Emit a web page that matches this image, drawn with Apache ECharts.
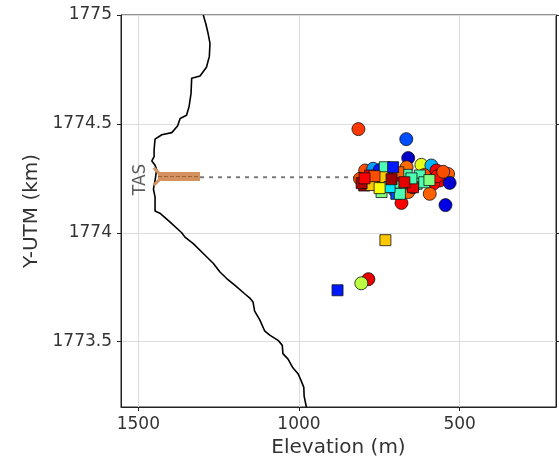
<!DOCTYPE html>
<html><head><meta charset="utf-8">
<script src="https://cdn.jsdelivr.net/npm/echarts@6/dist/echarts.min.js"></script>
<style>html,body{margin:0;padding:0;background:#fff}#c{width:559px;height:457px}</style>
</head><body><div id="c"></div>
<script>
// Topography profile (elevation m, Y-UTM km)
const topoElev = [1298,1290,1283,1277,1279,1288,1308,1334,1336,1342,1350,1370,1378,1396,1427,1448,1451,1451,1458,1448,1443,1448,1453,1448,1448,1433,1402,1365,1355,1329,1298,1267,1246,1225,1200,1169,1153,1143,1138,1122,1107,1091,1065,1052,1050,1034,1019,1003,993,985,984,977];
const topoY    = [1775.0,1774.96,1774.916,1774.87,1774.81,1774.76,1774.72,1774.71,1774.64,1774.58,1774.54,1774.525,1774.49,1774.46,1774.45,1774.43,1774.38,1774.35,1774.33,1774.31,1774.29,1774.24,1774.2,1774.165,1774.1,1774.09,1774.05,1774.0,1773.98,1773.95,1773.905,1773.86,1773.82,1773.79,1773.76,1773.72,1773.7,1773.682,1773.64,1773.6,1773.55,1773.53,1773.506,1773.483,1773.445,1773.42,1773.38,1773.353,1773.32,1773.29,1773.25,1773.2];

// TAS station band and projection line
const bandElev = [1439, 1308];
const bandY    = [1774.258, 1774.258];
const forkElev = [1452, 1425, 1452];
const forkY    = [1774.298, 1774.258, 1774.218];
const projElev = [1308, 812];
const projY    = [1774.255, 1774.255];
const stationLabel = ['TAS'];
const stationPos = [1494, 1774.245];

// Events: circles [elev, Y, colour value 0..1]
const circleElev = [815,666,660,544,784,806,794,810,769,665,619,588,572,536,562,582,569,531,593,681,660,645,610,551,631,703,749];
const circleY    = [1774.476,1774.43,1774.343,1774.127,1773.787,1773.768,1774.286,1774.248,1774.294,1774.301,1774.312,1774.309,1774.286,1774.27,1774.24,1774.225,1774.26,1774.229,1774.179,1774.137,1774.187,1774.209,1774.265,1774.28,1774.242,1774.196,1774.288];
const circleC    = [0.82,0.2,0.07,0.1,0.9,0.56,0.8,0.8,0.28,0.77,0.6,0.3,0.88,0.78,0.88,0.88,0.86,0.08,0.78,0.88,0.78,0.85,0.8,0.8,0.85,0.25,0.15];

// Events: squares [elev, Y, colour value]
const squareElev = [731,880,797,759,728,774,733,665,624,686,634,733,645,702,779,691,707,697,686,743,805,765,718,749,650,672,610,796,594,712];
const squareY    = [1773.966,1773.736,1774.217,1774.222,1774.225,1774.219,1774.301,1774.266,1774.263,1774.217,1774.225,1774.255,1774.209,1774.263,1774.263,1774.278,1774.301,1774.179,1774.179,1774.187,1774.228,1774.26,1774.21,1774.205,1774.25,1774.232,1774.232,1774.25,1774.242,1774.246];
const squareC    = [0.68,0.15,0.97,0.97,0.97,0.68,0.45,0.45,0.45,0.45,0.45,0.68,0.9,0.9,0.9,0.78,0.15,0.2,0.45,0.5,0.95,0.8,0.35,0.62,0.45,0.9,0.45,0.88,0.5,0.97];

const xTicks = [1500, 1000, 500];
const yTicks = [1773.5, 1774, 1774.5, 1775];

const zip2 = (a, b) => a.map((v, i) => [v, b[i]]);
const zip3 = (a, b, c) => a.map((v, i) => [v, b[i], c[i]]);

const txt = '#333';
const chart = echarts.init(document.getElementById('c'));
chart.setOption({
  animation: false,
  backgroundColor: '#fff',
  textStyle: {fontFamily: 'DejaVu Sans'},
  grid: {left: 121, top: 15, right: 3, bottom: 50, show: true, borderColor: '#222', borderWidth: 1,
    containLabel: false, outerBoundsMode: 'none'},
  visualMap: {show: false, seriesIndex: [4, 5], dimension: 2, min: 0, max: 1,
    inRange: {color: ['#00007f','#0000ff','#0080ff','#00ffff','#80ff80','#ffff00','#ff8000','#ff0000','#7f0000']}},
  xAxis: {
    type: 'value', inverse: true, min: 200, max: 1554,
    name: 'Elevation (m)', nameLocation: 'middle', nameGap: 30,
    nameTextStyle: {fontSize: 20, color: txt, fontFamily: 'DejaVu Sans'},
    axisLine: {show: true, onZero: false, lineStyle: {color: '#222'}},
    axisTick: {show: true, customValues: xTicks, length: 4, lineStyle: {color: '#222'}},
    axisLabel: {customValues: xTicks, fontSize: 17, color: txt, margin: 9, formatter: v => String(v)},
    splitLine: {show: true, lineStyle: {color: '#ddd', width: 1}}
  },
  yAxis: [{
    type: 'value', min: 1773.2, max: 1775,
    name: 'Y-UTM (km)', nameLocation: 'middle', nameGap: 74,
    nameTextStyle: {fontSize: 20, color: txt, fontFamily: 'DejaVu Sans'},
    axisLine: {show: true, onZero: false, lineStyle: {color: '#222'}},
    axisTick: {show: true, customValues: yTicks, length: 4, lineStyle: {color: '#222'}},
    axisLabel: {customValues: yTicks, fontSize: 17, color: txt, margin: 9, formatter: v => String(v)},
    splitLine: {show: true, lineStyle: {color: '#ddd', width: 1}}
  }, {
    type: 'value', min: 1773.2, max: 1775, position: 'right',
    axisLine: {show: true, lineStyle: {color: '#222'}},
    axisTick: {show: true, customValues: yTicks, length: 4, lineStyle: {color: '#222'}},
    axisLabel: {show: false}, splitLine: {show: false}
  }],
  series: [
    {type: 'line', data: zip2(topoElev, topoY), showSymbol: false, symbol: 'none',
      lineStyle: {color: '#000', width: 1.6}, z: 2},
    {type: 'line', data: zip2(bandElev, bandY), symbol: 'none',
      lineStyle: {color: '#d39260', width: 9}, z: 3},
    {type: 'line', data: zip2(forkElev, forkY), symbol: 'none',
      lineStyle: {color: '#d39260', width: 3}, z: 3},
    {type: 'line', data: zip2(projElev, projY), symbol: 'none',
      lineStyle: {color: '#7a7a7a', width: 2, type: [4, 5]}, z: 3},
    {type: 'scatter', data: zip3(circleElev, circleY, circleC), symbol: 'circle', symbolSize: 13,
      itemStyle: {borderColor: '#111', borderWidth: 0.8, opacity: 1}, z: 5},
    {type: 'scatter', data: zip3(squareElev, squareY, squareC), symbol: 'rect', symbolSize: 11,
      itemStyle: {borderColor: '#111', borderWidth: 0.8, opacity: 1}, z: 6},
    {type: 'scatter', data: [[stationPos[0], stationPos[1], stationLabel[0]]], symbolSize: 0,
      label: {show: true, position: 'inside', rotate: 90, formatter: p => p.value[2],
        fontSize: 17, color: txt, fontFamily: 'DejaVu Sans'}, z: 7},
    {type: 'line', data: zip2(bandElev, bandY), symbol: 'none',
      lineStyle: {color: '#9a6238', width: 1, type: [4, 2]}, z: 4}
  ]
});
</script>
</body></html>
